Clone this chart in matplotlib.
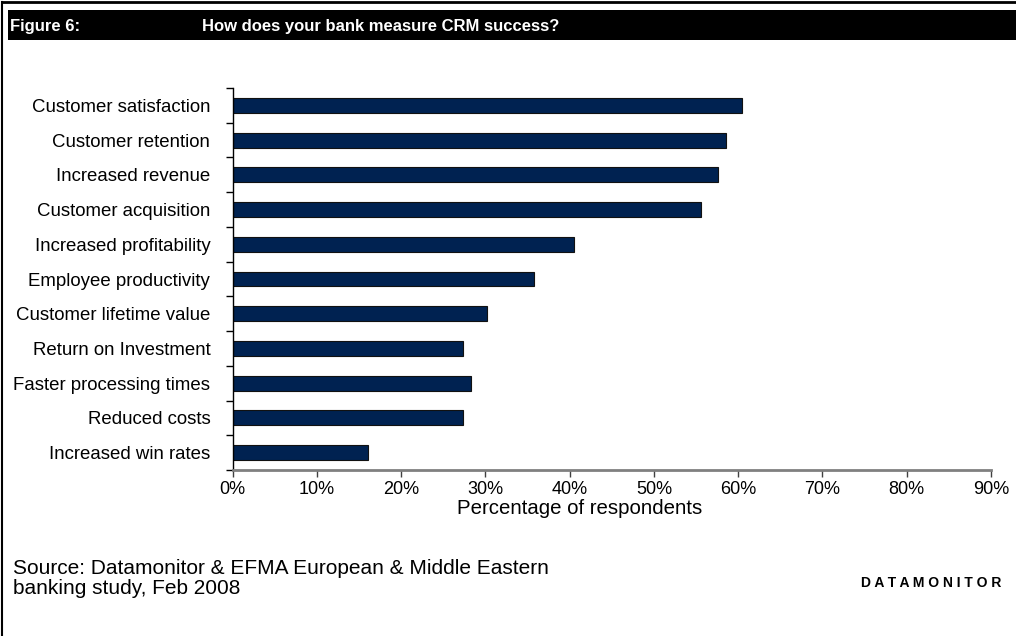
import matplotlib
matplotlib.use("Agg")
from matplotlib import pyplot as plt
from matplotlib.patches import Rectangle
import numpy as np

plt.rcParams['font.family'] = ['Liberation Sans', 'DejaVu Sans']

# Survey answers, top to bottom
kategorier = ["Customer satisfaction", "Customer retention", "Increased revenue",
              "Customer acquisition", "Increased profitability", "Employee productivity",
              "Customer lifetime value", "Return on Investment", "Faster processing times",
              "Reduced costs", "Increased win rates"]
andel = [60.4, 58.5, 57.6, 55.6, 40.5, 35.8, 30.2, 27.3, 28.3, 27.3, 16.1]  # procent
xticks = [0, 10, 20, 30, 40, 50, 60, 70, 80, 90]

W, H = 1016, 636
fig = plt.figure(figsize=(W / 100, H / 100), dpi=100)

def px(x, y):  # pixel -> figure fraction (y fra toppen)
    return x / W, 1 - y / H

# ramme: kun top og venstre
fig.add_artist(plt.Line2D([2 / W, 2 / W], [0, 1 - 2 / H], color='black', lw=1.5,
                          transform=fig.transFigure))
fig.add_artist(plt.Line2D([2 / W, 1], [1 - 2 / H, 1 - 2 / H], color='black', lw=2,
                          transform=fig.transFigure))
# sort overskriftsbjælke
x0, y0 = px(8, 40)
fig.add_artist(Rectangle((x0, y0), 1 - x0, 30 / H, transform=fig.transFigure,
                         facecolor='black', edgecolor='none'))
fig.text(*px(10, 27), "Figure 6:", color='white', fontsize=12, fontweight='bold', va='center')
fig.text(*px(202, 27), "How does your bank measure CRM success?", color='white',
         fontsize=12, fontweight='bold', va='center')

ax = fig.add_axes([232.5 / W, 1 - 470 / H, 758.5 / W, 382 / H])
y = np.arange(len(kategorier))
ax.barh(y, andel, height=0.43, color='#002251', edgecolor='#111111', linewidth=0.8)
ax.set_xlim(0, 90)
ax.set_ylim(len(kategorier) - 0.5, -0.5)

ax.set_xticks(xticks)
ax.set_xticklabels([f"{v}%" for v in xticks], fontsize=13)
ax.set_yticks(np.arange(len(kategorier) + 1) - 0.5)
ax.set_yticklabels([])
ax.set_yticks(y, minor=True)
ax.set_yticklabels(kategorier, minor=True, fontsize=13.4)
ax.tick_params(axis='y', which='major', length=5, width=1, direction='out', color='black')
ax.tick_params(axis='y', which='minor', length=0, pad=16)
ax.tick_params(axis='x', length=5, width=1, direction='out', color='#404040', pad=3)

for s in ['top', 'right']:
    ax.spines[s].set_visible(False)
ax.spines['left'].set_color('black')
ax.spines['left'].set_linewidth(1)
ax.spines['bottom'].set_color('#808080')
ax.spines['bottom'].set_linewidth(2)

fig.text(*px(580, 508), "Percentage of respondents", fontsize=14.7, ha='center', va='center')

fig.text(*px(13, 568), "Source: Datamonitor & EFMA European & Middle Eastern", fontsize=15, va='center')
fig.text(*px(13, 589), "banking study, Feb 2008", fontsize=15, va='center')
fig.text(*px(1001, 583), " ".join("DATAMONITOR"), fontsize=10, fontweight='bold',
         ha='right', va='center')

fig.savefig("out.png", dpi=100)
